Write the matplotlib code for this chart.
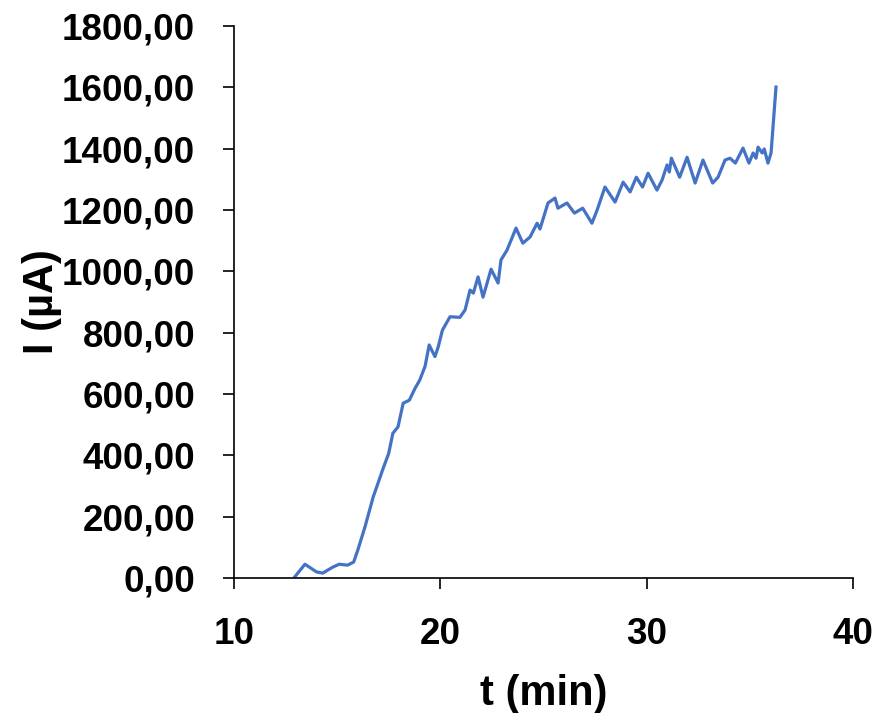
import matplotlib.pyplot as plt

# current vs time
t_min = [12.96, 13.44, 14.0, 14.3, 14.8, 15.1, 15.5, 15.8, 16.0, 16.35,
         16.75, 17.0, 17.2, 17.5, 17.7, 17.95, 18.2, 18.5, 18.77, 19.0,
         19.26, 19.46, 19.74, 19.9, 20.1, 20.47, 20.95, 21.2, 21.44, 21.6,
         21.83, 22.07, 22.46, 22.8, 22.94, 23.23, 23.67, 24.0, 24.35, 24.69,
         24.83, 25.22, 25.56, 25.7, 26.14, 26.5, 26.9, 27.35, 27.6, 27.98,
         28.47, 28.86, 29.2, 29.5, 29.8, 30.07, 30.5, 30.75, 30.99, 31.1,
         31.2, 31.6, 31.96, 32.35, 32.73, 33.2, 33.46, 33.8, 34.04, 34.3,
         34.67, 34.96, 35.16, 35.3, 35.4, 35.6, 35.7, 35.88, 36.03, 36.27]
current_uA = [5, 45, 20, 16, 36, 45, 42, 52, 91, 167,
              265, 313, 352, 407, 472, 493, 570, 580, 618, 645,
              690, 760, 722, 754, 808, 852, 850, 874, 939, 929,
              982, 916, 1007, 962, 1037, 1069, 1141, 1092, 1112, 1157,
              1138, 1223, 1239, 1206, 1223, 1190, 1206, 1157, 1200, 1275,
              1226, 1291, 1259, 1307, 1275, 1320, 1265, 1298, 1347, 1324,
              1369, 1307, 1372, 1288, 1363, 1288, 1307, 1363, 1369, 1353,
              1402, 1353, 1386, 1369, 1405, 1386, 1399, 1353, 1386, 1601]

x_ticks = [10, 20, 30, 40]
y_ticks = list(range(0, 2000, 200))

plt.rcParams['font.family'] = ['Liberation Sans', 'DejaVu Sans']
plt.rcParams['font.weight'] = 'bold'
plt.rcParams['xtick.major.pad'] = 20
plt.rcParams['ytick.major.pad'] = 20
plt.rcParams['xtick.major.size'] = 8
plt.rcParams['ytick.major.size'] = 8
plt.rcParams['xtick.major.width'] = 1.2
plt.rcParams['ytick.major.width'] = 1.2
plt.rcParams['xtick.labelsize'] = 26.5
plt.rcParams['ytick.labelsize'] = 26.5

fig = plt.figure(figsize=(8.77, 7.13), dpi=100)
ax = fig.add_axes([0.2668, 0.1893, 0.7058, 0.7742])

ax.plot(t_min, current_uA, color='#4472C4', linewidth=2.3,
        solid_joinstyle='round')

ax.set_xlim(10, 40)
ax.set_ylim(0, 1800)
ax.set_xticks(x_ticks)
ax.set_yticks(y_ticks)
ax.set_yticklabels([f'{v},00' for v in y_ticks])

for side in ['top', 'right']:
    ax.spines[side].set_visible(False)
for side in ['left', 'bottom']:
    ax.spines[side].set_linewidth(1.2)

ax.set_xlabel('t (min)', fontsize=30, fontweight='bold', labelpad=16)
ax.set_ylabel('I (µA)', fontsize=30, fontweight='bold', labelpad=0)

fig.savefig('out.png', dpi=100)
